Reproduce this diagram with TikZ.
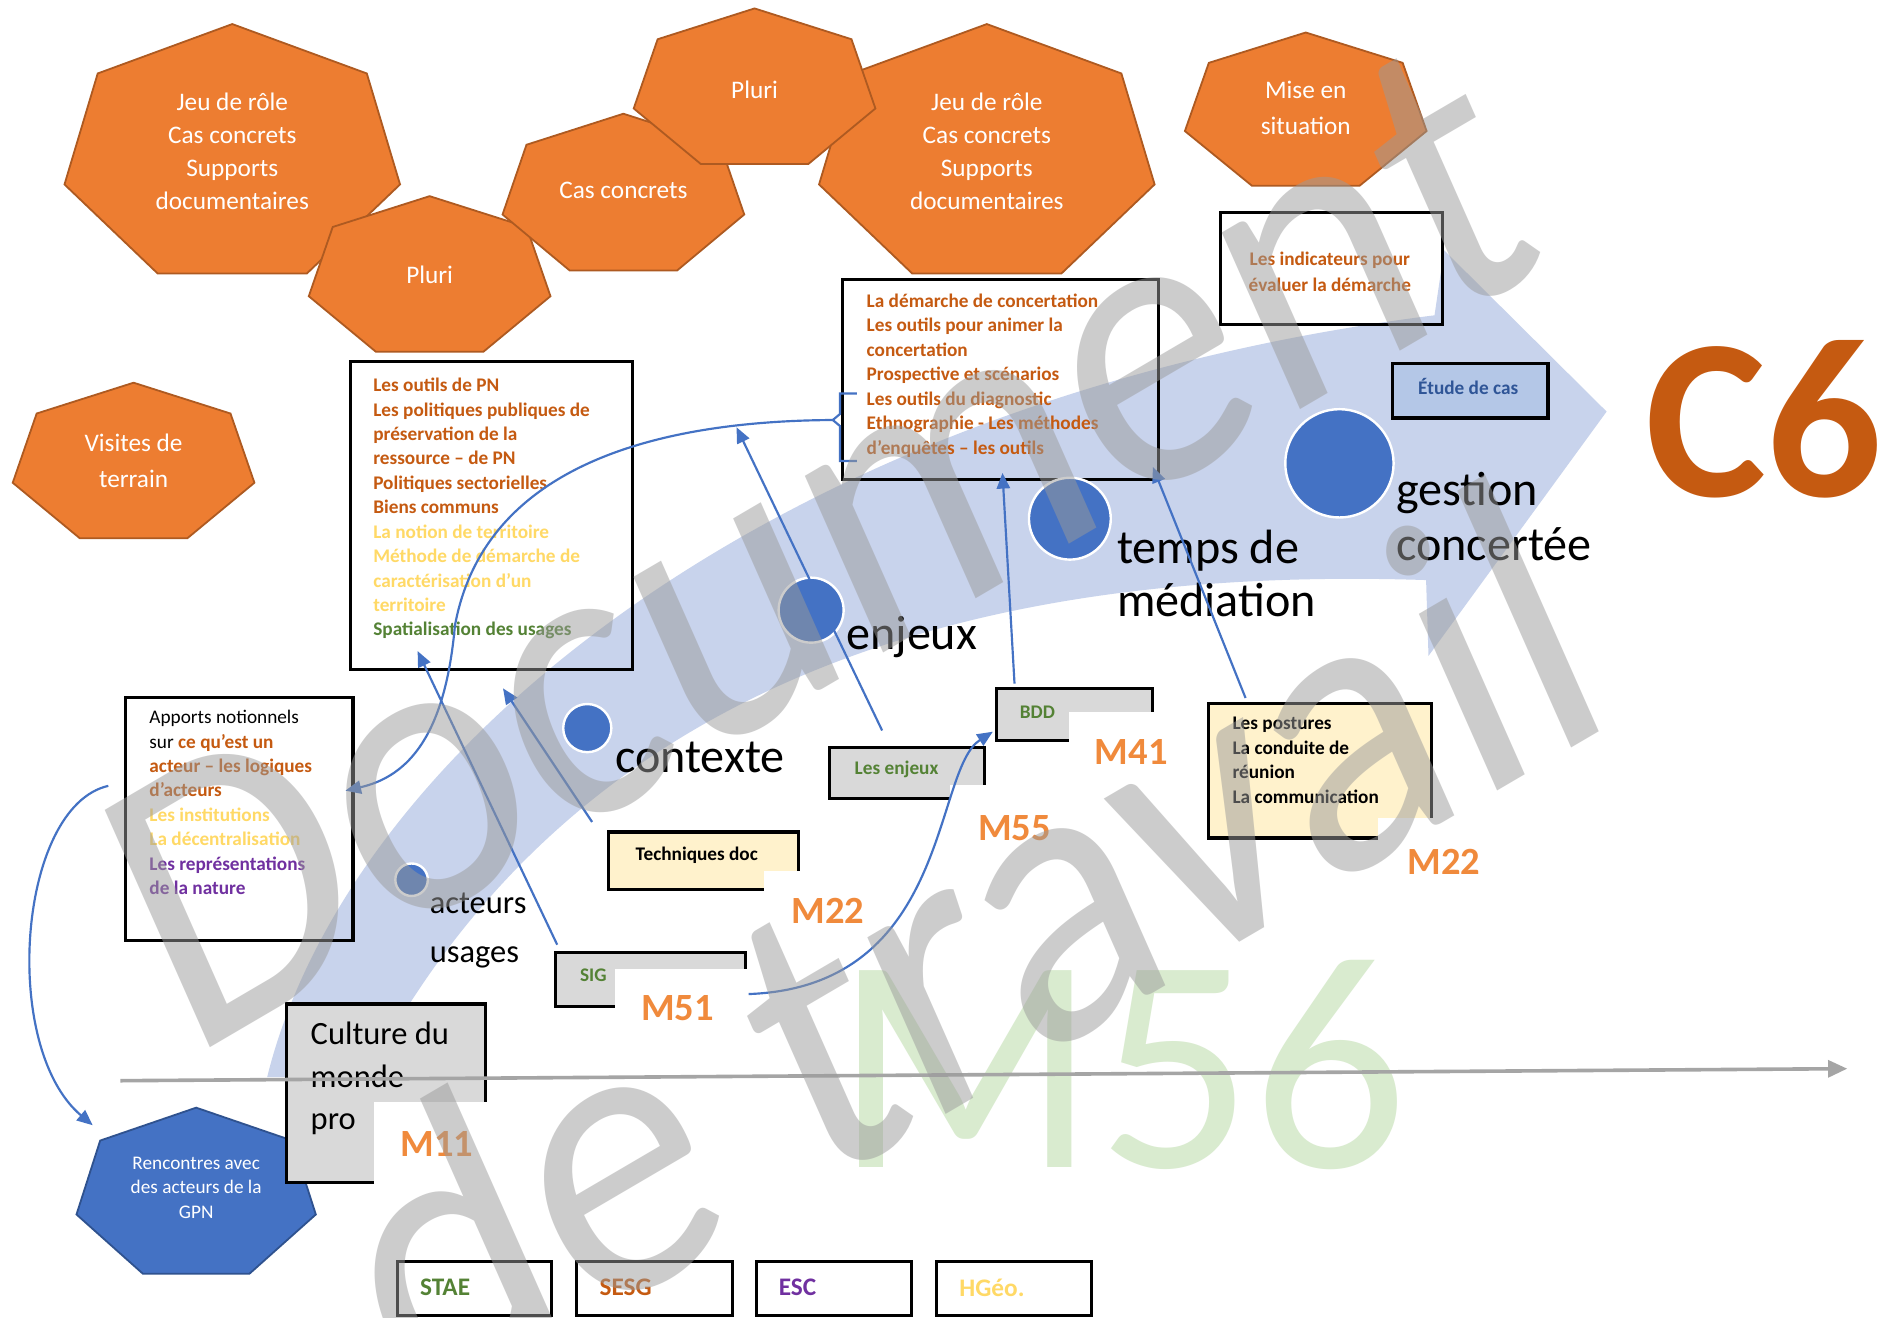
\documentclass[tikz,border=0pt]{standalone}
\usepackage{fontspec}
\setmainfont{Carlito}
\usetikzlibrary{arrows.meta,calc}
\definecolor{hfill}{HTML}{ED7D31}
\definecolor{hdraw}{HTML}{AE5A21}
\definecolor{bfill}{HTML}{4472C4}
\definecolor{bdraw}{HTML}{2F528F}
\definecolor{otext}{HTML}{C55A11}
\definecolor{ytext}{HTML}{FFD966}
\definecolor{gtext}{HTML}{548235}
\definecolor{ptext}{HTML}{7030A0}
\definecolor{grayfill}{HTML}{D9D9D9}
\definecolor{cream}{HTML}{FFF2CC}
\definecolor{lbfill}{HTML}{B4C7E7}
\definecolor{lbtext}{HTML}{2F5597}
\definecolor{band}{RGB}{200,211,236}
\definecolor{mlab}{HTML}{F08A3C}
\definecolor{axiscol}{HTML}{A5A5A5}
\definecolor{wm}{HTML}{9A9A9A}
\definecolor{wmgreen}{HTML}{D9EBCF}
\newcommand\fsz[2]{\fontsize{#1}{#2}\selectfont}
\newcommand\txO[1]{\textcolor{otext}{#1}}
\newcommand\txY[1]{\textcolor{ytext}{#1}}
\newcommand\txG[1]{\textcolor{gtext}{#1}}
\newcommand\txP[1]{\textcolor{ptext}{#1}}
\newcommand\hepta[5]{\draw[#5] plot[samples at={-90,-38.5714,12.8571,64.2857,115.7143,167.1429,218.5714}, variable=\ang] ({#1+#3*cos(\ang)},{#2+#4*sin(\ang)}) -- cycle;}
\begin{document}
\begin{tikzpicture}[x=1pt,y=-1pt,
  hept/.style={fill=hfill,draw=hdraw,line width=1.5pt},
  hepb/.style={fill=bfill,draw=bdraw,line width=1.5pt},
  httext/.style={text=white,align=center,font=\fsz{21}{27.5},inner sep=0pt},
  box/.style={draw=black,line width=2.6pt,inner sep=0pt,anchor=north west},
  txt/.style={inner sep=0pt,anchor=north west,align=left,font=\fsz{16}{20.3}\bfseries},
  conn/.style={draw=bfill,line width=1.8pt,-{Triangle[length=13pt,width=11pt]}},
  mlabel/.style={text=mlab,font=\fsz{32}{32}\bfseries,inner sep=0pt},
  dot/.style={circle,fill=bfill,draw=white,line width=2pt,inner sep=0pt},
  bigl/.style={font=\fsz{40}{44},inner sep=0pt,align=left},
  wmark/.style={yscale=1.15,rotate=27,text=wm,text opacity=0.5,font=\fsz{300}{300},inner sep=0pt},
  notch/.style={fill=white}]
\useasboundingbox (0,0) rectangle (1568,1095);
\fill[white] (0,0) rectangle (1568,1095);

% curved band arrow
\fill[band] (222,895) .. controls (290,620) and (650,330) .. (1192,262) -- (1200,208) -- (1335,342) -- (1187,545) -- (1185,482) .. controls (820,470) and (480,560) .. (305,895) -- cycle;

% green watermark
\node[font=\fsz{255}{255},text=wmgreen,inner sep=0pt] (wmm) at (932,885) {M56};

% heptagons
\hepta{193}{129}{143}{109}{hept}
\node[httext] (hA) at (193,126) {Jeu de rôle\\Cas concrets\\Supports\\documentaires};
\hepta{357}{231}{103}{68}{hept}
\node[httext] (hB) at (357,228) {Pluri};
\hepta{518}{163}{103}{68.5}{hept}
\node[httext] (hC) at (518,158) {Cas concrets};
\hepta{820}{129}{143}{109}{hept}
\node[httext] (hE) at (820,126) {Jeu de rôle\\Cas concrets\\Supports\\documentaires};
\hepta{627}{75}{103}{68}{hept}
\node[httext] (hD) at (627,75) {Pluri};
\hepta{1085}{94}{103}{67}{hept}
\node[httext,font=\fsz{21}{30}] (hF) at (1085,90) {Mise en\\situation};
\hepta{111}{386}{103}{68}{hept}
\node[httext,font=\fsz{21}{30}] (hG) at (111,383) {Visites de\\terrain};
\hepta{163}{993}{102}{72.6}{hepb}
\node[httext,font=\fsz{16}{20.5}] (hH) at (163,987) {Rencontres avec\\des acteurs de la\\GPN};

% boxes
\node[box,minimum width=234pt,minimum height=256pt] (pn) at (290,299) {};
\node[txt] (pntxt) at (310,314) {\txO{Les outils de PN}\\\txO{Les politiques publiques de}\\\txO{préservation de la}\\\txO{ressource – de PN}\\\txO{Politiques sectorielles}\\\txO{Biens communs}\\\txY{La notion de territoire}\\\txY{Méthode de démarche de}\\\txY{caractérisation d’un}\\\txY{territoire}\\\txG{Spatialisation des usages}};

\node[box,minimum width=262pt,minimum height=166pt] (conc) at (699,231) {};
\node[txt] (conctxt) at (720,244) {\txO{La démarche de concertation}\\\txO{Les outils pour animer la}\\\txO{concertation}\\\txO{Prospective et scénarios}\\\txO{Les outils du diagnostic}\\\txO{Ethnographie - Les méthodes}\\\txO{d’enquêtes – les outils}};

\node[box,minimum width=184pt,minimum height=93pt] (ind) at (1013,175) {};
\node[inner sep=0pt,align=center,font=\fsz{16}{22}\bfseries,text=otext] (indtxt) at (1105,226) {Les indicateurs pour\\évaluer la démarche};

\node[box,fill=lbfill,minimum width=129pt,minimum height=45pt] (etude) at (1156,301) {};
\node[inner sep=0pt,font=\fsz{16}{16}\bfseries,text=lbtext] (etudetxt) at (1220,321) {Étude de cas};

\node[box,minimum width=189pt,minimum height=202pt] (app) at (103,578) {};
\node[txt] (apptxt) at (124,590) {\mdseries Apports notionnels\\\mdseries sur \txO{\bfseries ce qu’est un}\\\txO{acteur – les logiques}\\\txO{d’acteurs}\\\txY{Les institutions}\\\txY{La décentralisation}\\\txP{Les représentations}\\\txP{de la nature}};

\node[box,fill=cream,minimum width=158pt,minimum height=48pt] (tech) at (504,690) {};
\node[inner sep=0pt,font=\fsz{16}{16}\bfseries] (techtxt) at (579,711) {Techniques doc};

\node[box,fill=grayfill,minimum width=129pt,minimum height=42pt] (enj) at (688,620) {};
\node[inner sep=0pt,font=\fsz{16}{16}\bfseries,text=gtext] (enjtxt) at (745,639) {Les enjeux};

\node[box,fill=grayfill,minimum width=129pt,minimum height=43pt] (bdd) at (827,571) {};
\node[inner sep=0pt,font=\fsz{16}{16}\bfseries,text=gtext] (bddtxt) at (862,592) {BDD};

\node[box,fill=grayfill,minimum width=158pt,minimum height=45pt] (sig) at (460,790) {};
\node[inner sep=0pt,font=\fsz{16}{16}\bfseries,text=gtext] (sigtxt) at (493,810) {SIG};

\node[box,fill=cream,minimum width=185pt,minimum height=112pt] (post) at (1003,583) {};
\node[txt] (posttxt) at (1024,596) {Les postures\\La conduite de\\réunion\\La communication};

\node[box,fill=grayfill,minimum width=165pt,minimum height=148pt] (cult) at (237,833) {};
\node[inner sep=0pt,anchor=north west,align=left,font=\fsz{27}{35.5}] (culttxt) at (258,849) {Culture du\\monde\\pro};

% white notches over box corners
\fill[notch] (635,724) rectangle (666,742);
\fill[notch] (789,652) rectangle (821,666);
\fill[notch] (888,592) rectangle (960,618);
\fill[notch] (511,805) rectangle (622,839);
\fill[notch] (1145,680) rectangle (1192,699);
\fill[notch] (311,916) rectangle (406,985);

% bottom boxes
\node[box,minimum width=128pt,minimum height=45pt] (stae) at (329,1047) {};
\node[inner sep=0pt,anchor=west,font=\fsz{21}{21}\bfseries,text=gtext] (staetxt) at (349,1070) {STAE};
\node[box,minimum width=129pt,minimum height=45pt] (sesg) at (478,1047) {};
\node[inner sep=0pt,anchor=west,font=\fsz{21}{21}\bfseries,text=otext] (sesgtxt) at (498,1070) {SESG};
\node[box,minimum width=129pt,minimum height=45pt] (esc) at (627,1047) {};
\node[inner sep=0pt,anchor=west,font=\fsz{21}{21}\bfseries,text=ptext] (esctxt) at (647,1070) {ESC};
\node[box,minimum width=129pt,minimum height=45pt] (hgeo) at (777,1047) {};
\node[inner sep=0pt,anchor=west,font=\fsz{21}{21}\bfseries,text=ytext] (hgeotxt) at (797,1070) {HGéo.};

% module labels
\node[mlabel] (m41) at (940,625) {M41};
\node[mlabel] (m55) at (843,688) {M55};
\node[mlabel] (m22a) at (688,757) {M22};
\node[mlabel] (m51) at (563,838) {M51};
\node[mlabel] (m11) at (363,951) {M11};
\node[mlabel] (m22b) at (1200,716) {M22};

% C6
\node[inner sep=0pt,font=\fsz{190}{190}\bfseries,text=otext] (c6) at (1466,348) {C6};

% circles and stage labels
\node[dot,minimum size=27pt] (d1) at (342,731) {};
\node[dot,minimum size=40pt] (d2) at (488,605) {};
\node[dot,minimum size=54pt] (d3) at (674,507) {};
\node[dot,minimum size=68pt] (d4) at (889,431) {};
\node[dot,minimum size=90pt] (d5) at (1113,385) {};
\node[inner sep=0pt,anchor=base west,font=\fsz{27}{27}] (lacteurs) at (357,759) {acteurs};
\node[inner sep=0pt,anchor=base west,font=\fsz{27}{27}] (lusages) at (357,800) {usages};
\node[bigl,anchor=base west] (lcontexte) at (511,642) {contexte};
\node[bigl,anchor=base west] (lenjeux) at (703,540) {enjeux};
\node[bigl,anchor=base west] (ltemps) at (928,468) {temps de};
\node[bigl,anchor=base west] (lmed) at (928,512) {médiation};
\node[bigl,anchor=base west] (lgestion) at (1160,420) {gestion};
\node[bigl,anchor=base west] (lconc) at (1160,466) {concertée};

% brace
\coordinate (bmid) at (692,349);
\draw[draw=bfill,line width=1.8pt] (712,327) -- (698,327) -- (698,344) -- (bmid) -- (698,354) -- (698,383) -- (712,383);

% connectors
\coordinate (a1s) at (492,683); \coordinate (a1e) at (418,572);
\coordinate (a2s) at (463,785); \coordinate (a2e) at (347,541);
\coordinate (a3s) at (733,607); \coordinate (a3e) at (612,355);
\coordinate (a4s) at (843,568); \coordinate (a4e) at (833,393);
\coordinate (a5s) at (1035,580); \coordinate (a5e) at (958,388);
\coordinate (a6e) at (287,657);
\coordinate (a7s) at (622,826); \coordinate (a7e) at (825,608);
\coordinate (a8s) at (90,653); \coordinate (a8e) at (77,935);
\draw[conn] (a1s) -- (a1e);
\draw[conn] (a2s) -- (a2e);
\draw[conn] (a3s) -- (a3e);
\draw[conn] (a4s) -- (a4e);
\draw[conn] (a5s) -- (a5e);
\draw[conn] (bmid) .. controls (520,350) and (400,400) .. (378,520) .. controls (370,610) and (340,645) .. (a6e);
\draw[conn] (a7s) .. controls (790,820) and (775,640) .. (a7e);
\draw[conn] (a8s) .. controls (15,670) and (0,870) .. (a8e);

% time axis
\coordinate (axs) at (100,898); \coordinate (axe) at (1535,888);
\draw[draw=axiscol,line width=3pt,-{Triangle[length=16pt,width=14pt]}] (axs) -- (axe);

% watermark
\begin{scope}[shift={(680,452)}]
\node[wmark] (wmdoc) at (0,0) {Document};
\end{scope}
\begin{scope}[shift={(800,785)}]
\node[wmark] (wmtrav) at (0,0) {de travail};
\end{scope}
\end{tikzpicture}
\end{document}
